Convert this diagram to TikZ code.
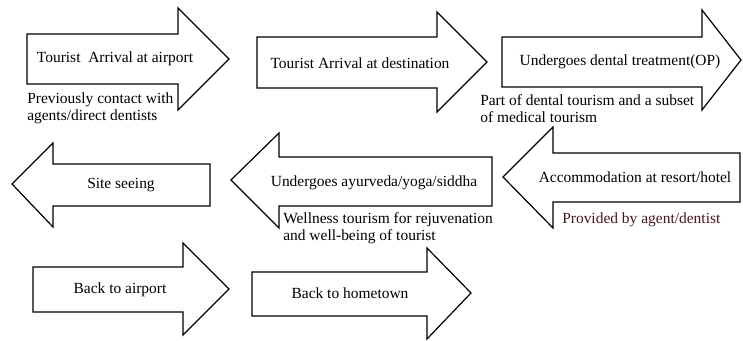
\documentclass[tikz,border=0pt]{standalone}
\usepackage{fontspec}
\setmainfont{Liberation Serif}
\usepackage{tikz}

\definecolor{notered}{RGB}{72,22,22}

\tikzset{
  flowarrow/.style={draw=black, line width=0.9pt, fill=white, line join=miter},
  steptext/.style={inner sep=0pt, font=\fontsize{11.6}{12.75}\selectfont},
  notetext/.style={anchor=west, align=left, inner sep=0pt, font=\fontsize{11.6}{12.75}\selectfont}
}

\begin{document}
\begin{tikzpicture}[x=0.75pt, y=-0.75pt]
  \useasboundingbox (0,0) rectangle (743,341);

  % Add first row of arrows (pointing right)
  \draw[flowarrow] (27,34) -- (178,34) -- (178,8) -- (229,59) -- (178,110) -- (178,84) -- (27,84) -- cycle;
  \draw[flowarrow] (257,37) -- (437,37) -- (437,12) -- (487,62) -- (437,112) -- (437,88) -- (257,88) -- cycle;
  \draw[flowarrow] (502,37) -- (702,37) -- (702,10) -- (741,60) -- (702,110) -- (702,87) -- (502,87) -- cycle;

  \node[steptext] (arrival) at (115,59) {Tourist\ \ Arrival at airport};
  \node[steptext] (destination) at (360,63) {Tourist Arrival at destination};
  \node[steptext] (dental) at (620,62) {Undergoes dental treatment(OP)};

  \node[notetext] (contact) at (27,108.5) {Previously contact with\\agents/direct dentists};
  \node[notetext] (dentalnote) at (480,108.5) {Part of dental tourism and a subset\\of medical tourism};

  % Add second row of arrows (pointing left)
  \draw[flowarrow] (210,164) -- (53,164) -- (53,143) -- (12,184) -- (53,227) -- (53,206) -- (210,206) -- cycle;
  \draw[flowarrow] (492,157) -- (279,157) -- (279,133) -- (231,180) -- (279,228) -- (279,206) -- (492,206) -- cycle;
  \draw[flowarrow] (740,153) -- (553,153) -- (553,127) -- (503,177) -- (553,228) -- (553,202) -- (740,202) -- cycle;

  \node[steptext] (siteseeing) at (121,185) {Site seeing};
  \node[steptext] (ayurveda) at (374,183) {Undergoes ayurveda/yoga/siddha};
  \node[steptext] (accommodation) at (635,177) {Accommodation at resort/hotel};

  \node[notetext] (wellness) at (283,228.5) {Wellness tourism for rejuvenation\\and well-being of tourist};
  \node[notetext, text=notered] (provided) at (562,220) {Provided by agent/dentist};

  % Add third row of arrows (pointing right)
  \draw[flowarrow] (33,267) -- (183,267) -- (183,243) -- (229,289) -- (183,335) -- (183,312) -- (33,312) -- cycle;
  \draw[flowarrow] (252,272) -- (427,272) -- (427,248) -- (471,293) -- (427,339) -- (427,316) -- (252,316) -- cycle;

  \node[steptext] (backairport) at (120,290) {Back to airport};
  \node[steptext] (hometown) at (350,293) {Back to hometown};

\end{tikzpicture}
\end{document}
